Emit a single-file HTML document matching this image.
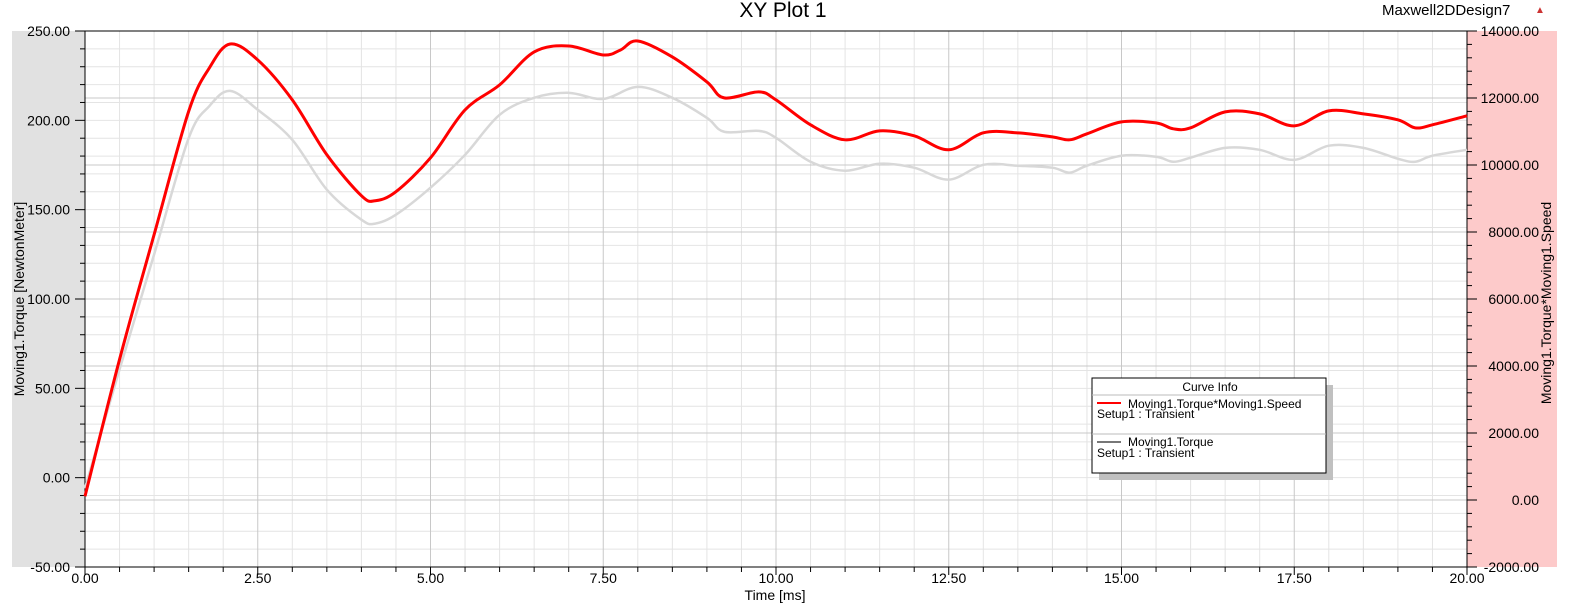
<!DOCTYPE html>
<html><head><meta charset="utf-8"><style>
body{margin:0;background:#fff;}
svg{display:block;font-family:"Liberation Sans",Arial,sans-serif;}
</style></head><body>
<svg id="chart" width="1569" height="607" viewBox="0 0 1569 607">
<rect x="12" y="31" width="73" height="536" fill="#e1e1e1"/>
<rect x="1467" y="31" width="90" height="536" fill="#fdcaca"/>
<text x="783" y="17" font-size="21" text-anchor="middle">XY Plot 1</text>
<text x="1382" y="15" font-size="15">Maxwell2DDesign7</text>
<text x="1535" y="13" font-size="10" fill="#c33">▲</text>
<g id="grid"></g><g id="axes"></g><g id="series"></g>
<text x="775" y="600" font-size="14" text-anchor="middle">Time [ms]</text>
<text transform="translate(24,299) rotate(-90)" font-size="14" text-anchor="middle">Moving1.Torque [NewtonMeter]</text>
<text transform="translate(1551,303) rotate(-90)" font-size="14" text-anchor="middle">Moving1.Torque*Moving1.Speed</text>
<g>
<rect x="1099" y="385" width="234" height="95" fill="#c0c0c0"/>
<rect x="1092" y="378" width="234" height="95" fill="#fff" stroke="#000" stroke-width="1"/>
<text x="1210" y="391" font-size="12" text-anchor="middle">Curve Info</text>
<line x1="1092" y1="395" x2="1326" y2="395" stroke="#bbb"/>
<line x1="1097" y1="403" x2="1121" y2="403" stroke="#f00" stroke-width="2"/>
<text x="1128" y="408" font-size="12">Moving1.Torque*Moving1.Speed</text>
<text x="1097" y="418" font-size="12">Setup1 : Transient</text>
<line x1="1092" y1="434" x2="1326" y2="434" stroke="#bbb"/>
<line x1="1097" y1="442" x2="1121" y2="442" stroke="#777" stroke-width="2"/>
<text x="1128" y="446" font-size="12">Moving1.Torque</text>
<text x="1097" y="457" font-size="12">Setup1 : Transient</text>
</g>
</svg>
<script>
const torqueTime=[0,0.5,1,1.5,1.8,2.1,2.5,3,3.5,4,4.2,4.5,5,5.5,6,6.5,7,7.5,8,8.5,9,9.25,9.75,10,10.5,11,11.5,12,12.5,13,13.5,14,14.25,14.5,15,15.5,15.75,16,16.5,17,17.5,18,18.5,19,19.25,19.5,20];
const torqueValues=[-6,60.6,124.9,190,208,216.5,205.9,189.1,161.2,144.4,142.2,147.2,162.3,180.7,203.1,212.6,215.4,212,218.7,212.6,201.4,193.6,194.1,190.2,176.8,171.8,175.7,173.5,166.8,175.1,174.6,173.5,170.7,174.6,180.2,179.6,176.8,179.1,184.6,183.5,177.9,185.8,184.6,178.5,176.8,180.2,183.5];
const powerTime=[0,0.5,1,1.5,1.8,2.1,2.5,3,3.5,4,4.2,4.5,5,5.5,6,6.5,7,7.5,7.75,8,8.5,9,9.25,9.75,10,10.5,11,11.5,12,12.5,13,13.5,14,14.25,14.5,15,15.5,15.75,16,16.5,17,17.5,18,18.5,19,19.25,19.5,20];
const powerValues=[113,4196,7921,11600,12900,13613,13136,11944,10305,9083,8934,9202,10215,11646,12391,13374,13553,13285,13434,13702,13225,12480,12003,12182,11944,11199,10752,11020,10871,10454,10960,10960,10841,10752,10931,11288,11258,11080,11109,11586,11527,11169,11616,11527,11348,11109,11199,11467];
const xTicks=["0.00","2.50","5.00","7.50","10.00","12.50","15.00","17.50","20.00"];
const leftTicks=["-50.00","0.00","50.00","100.00","150.00","200.00","250.00"];
const rightTicks=["-2000.00","0.00","2000.00","4000.00","6000.00","8000.00","10000.00","12000.00","14000.00"];

const NS="http://www.w3.org/2000/svg";
const L=85,R=1467,T=31,B=567;
const xs=t=>L+(t/20)*(R-L);
const yl=v=>B-(v+50)/300*(B-T);
const yr=v=>B-(v+2000)/16000*(B-T);
function mk(tag,attrs,parent){const e=document.createElementNS(NS,tag);for(const k in attrs)e.setAttribute(k,attrs[k]);document.getElementById(parent).appendChild(e);return e;}
for(let v=-50;v<=250;v+=10){const l=mk('line',{x1:L,x2:R,y1:yl(v),y2:yl(v),stroke:'#e4e4e4'},'grid');

}
for(let t=0;t<=20;t+=0.5){const l=mk('line',{x1:xs(t),x2:xs(t),y1:T,y2:B,stroke:(t%2.5===0)?'#c8c8c8':'#e4e4e4'},'grid');

}
for(let i=0;i<rightTicks.length;i++){const v=parseFloat(rightTicks[i]);const l=mk('line',{x1:L,x2:R,y1:yr(v),y2:yr(v),stroke:'#c8c8c8'},'grid');

}
mk('line',{x1:L,x2:L,y1:T,y2:B,stroke:'#000'},'axes');
mk('line',{x1:R,x2:R,y1:T,y2:B,stroke:'#000'},'axes');
mk('line',{x1:L,x2:R,y1:B,y2:B,stroke:'#000'},'axes');
mk('line',{x1:L,x2:R,y1:T,y2:T,stroke:'#000'},'axes');
for(let v=-50;v<=250;v+=10){mk('line',{x1:L-(v%50===0?10:5),x2:L,y1:yl(v),y2:yl(v),stroke:'#000'},'axes');}
for(let v=-2000;v<=14000;v+=400){mk('line',{x1:R,x2:R+(v%2000===0?10:5),y1:yr(v),y2:yr(v),stroke:'#000'},'axes');}
for(let t=0;t<=20;t+=0.5){mk('line',{x1:xs(t),x2:xs(t),y1:B,y2:B+(t%2.5===0?8:5),stroke:'#000'},'axes');}
leftTicks.forEach(s=>{const e=mk('text',{x:70,y:yl(parseFloat(s))+5,'font-size':14,'text-anchor':'end'},'axes');e.textContent=s;

});
rightTicks.forEach(s=>{const e=mk('text',{x:1539,y:yr(parseFloat(s))+5,'font-size':14,'text-anchor':'end'},'axes');e.textContent=s;

});
xTicks.forEach(s=>{const e=mk('text',{x:xs(parseFloat(s)),y:583,'font-size':14,'text-anchor':'middle'},'axes');e.textContent=s;

});
function smooth(pts){let d='M'+pts[0][0]+','+pts[0][1];for(let i=0;i<pts.length-1;i++){const p0=pts[i-1]||pts[i],p1=pts[i],p2=pts[i+1],p3=pts[i+2]||p2;
const c1=[p1[0]+(p2[0]-p0[0])/6,p1[1]+(p2[1]-p0[1])/6],c2=[p2[0]-(p3[0]-p1[0])/6,p2[1]-(p3[1]-p1[1])/6];
d+=' C'+c1.join(',')+' '+c2.join(',')+' '+p2.join(',');}return d;}
const g=mk('path',{d:smooth(torqueTime.map((t,i)=>[xs(t),yl(torqueValues[i])])),fill:'none',stroke:'#d8d8d8','stroke-width':2.5},'series');


const r=mk('path',{d:smooth(powerTime.map((t,i)=>[xs(t),yr(powerValues[i])])),fill:'none',stroke:'#f00','stroke-width':3},'series');


</script>
</body></html>
